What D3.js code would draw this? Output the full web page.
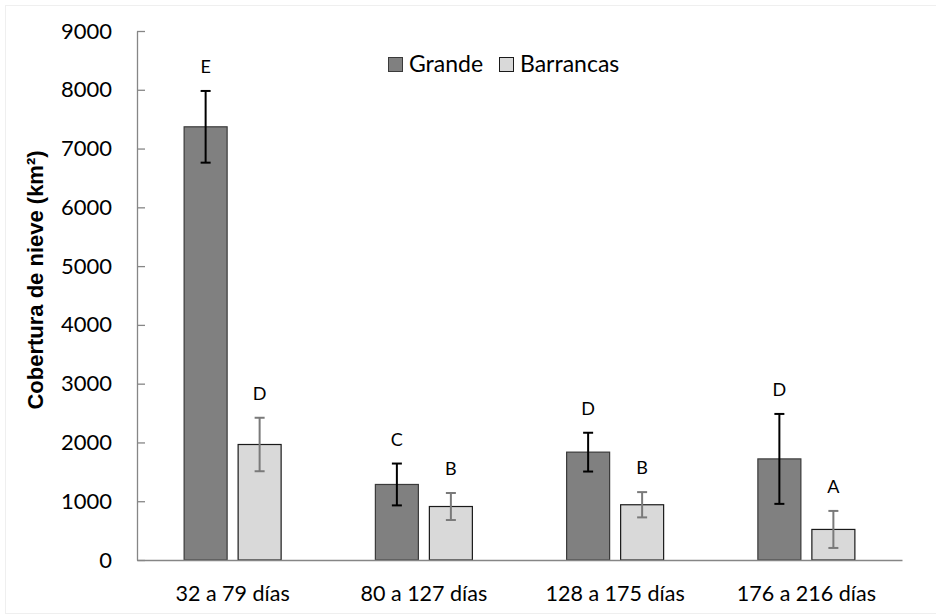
<!DOCTYPE html>
<html>
<head>
<meta charset="utf-8">
<script src="https://cdn.jsdelivr.net/npm/d3@7"></script>
<style>
  html, body { margin: 0; padding: 0; background: #fff; }
  svg { display: block; }
</style>
</head>
<body>
<svg id="chart" width="936" height="614"></svg>
<script>
// Snow cover per duration class, two basins, with error bars and significance letters
const categories = ["32 a 79 días", "80 a 127 días", "128 a 175 días", "176 a 216 días"];
const seriesNames = ["Grande", "Barrancas"];
const grandeValues = [7370, 1285, 1835, 1720];
const grandeErrors = [610, 356, 330, 765];
const barrancasValues = [1965, 910, 940, 520];
const barrancasErrors = [455, 230, 215, 315];
const grandeLetters = ["E", "C", "D", "D"];
const barrancasLetters = ["D", "B", "B", "A"];
const yTicks = [0, 1000, 2000, 3000, 4000, 5000, 6000, 7000, 8000, 9000];

const svg = d3.select("#chart");
const W = 936, H = 614;
const plot = { left: 137, right: 902, top: 31, bottom: 560 };
const bodyFont = "Lato, 'Open Sans', sans-serif";

// faint outer frame
svg.append("rect")
  .attr("x", 5.5).attr("y", 5.5)
  .attr("width", W).attr("height", H - 6)
  .attr("fill", "none").attr("stroke", "#efefef");

const x = d3.scaleBand().domain(categories).range([plot.left, plot.right]).padding(0);
const y = d3.scaleLinear().domain([0, 9000]).range([plot.bottom, plot.top]);

const barW = 43, innerGap = 11;

const series = [
  { name: seriesNames[0], values: grandeValues, errors: grandeErrors, letters: grandeLetters,
    fill: "#808080", stroke: "#3a3a3a", err: "#000000", offset: -(innerGap / 2 + barW) },
  { name: seriesNames[1], values: barrancasValues, errors: barrancasErrors, letters: barrancasLetters,
    fill: "#d9d9d9", stroke: "#1a1a1a", err: "#7a7a7a", offset: innerGap / 2 }
];

const cx = c => x(c) + x.bandwidth() / 2;

// y axis with inside ticks
const yAxis = d3.axisLeft(y).tickValues(yTicks).tickFormat(d3.format("d"))
  .tickSizeInner(-8).tickSizeOuter(0);
const gy = svg.append("g").attr("transform", `translate(${plot.left},0)`).call(yAxis);
gy.select(".domain").attr("stroke", "#868686").attr("stroke-width", 1.3);
gy.selectAll(".tick line").attr("stroke", "#868686").attr("stroke-width", 1.3);
gy.selectAll(".tick text")
  .attr("font-family", bodyFont)
  .attr("font-size", 22)
  .attr("fill", "#000")
  .attr("x", -25);

// bars
series.forEach(s => {
  const g = svg.append("g");
  g.selectAll("rect").data(categories).join("rect")
    .attr("x", (c) => cx(c) + s.offset)
    .attr("y", (c, i) => y(s.values[i]))
    .attr("width", barW)
    .attr("height", (c, i) => y(0) - y(s.values[i]))
    .attr("fill", s.fill)
    .attr("stroke", s.stroke)
    .attr("stroke-width", 1.2);
});

// x axis baseline and labels
const xAxis = d3.axisBottom(x).tickSize(0).tickPadding(26);
const gx = svg.append("g").attr("transform", `translate(0,${plot.bottom})`).call(xAxis);
gx.select(".domain").attr("stroke", "#868686").attr("stroke-width", 1.3);
gx.selectAll(".tick text")
  .attr("font-family", bodyFont)
  .attr("font-size", 21.5)
  .attr("fill", "#000");

// error bars and letters
series.forEach(s => {
  const g = svg.append("g");
  categories.forEach((c, i) => {
    const mx = cx(c) + s.offset + barW / 2;
    const hi = y(s.values[i] + s.errors[i]);
    const lo = y(s.values[i] - s.errors[i]);
    g.append("line").attr("x1", mx).attr("x2", mx).attr("y1", hi).attr("y2", lo)
      .attr("stroke", s.err).attr("stroke-width", 2);
    [hi, lo].forEach(v => {
      g.append("line").attr("x1", mx - 5).attr("x2", mx + 5).attr("y1", v).attr("y2", v)
        .attr("stroke", s.err).attr("stroke-width", 2);
    });
    g.append("text")
      .attr("x", mx).attr("y", hi - 18)
      .attr("text-anchor", "middle")
      .attr("font-family", bodyFont)
      .attr("font-size", 18)
      .attr("fill", "#000")
      .text(s.letters[i]);
  });
});

// y axis title
svg.append("text")
  .attr("transform", `translate(43,280) rotate(-90)`)
  .attr("text-anchor", "middle")
  .attr("font-family", "'Liberation Sans', Arial, sans-serif")
  .attr("font-weight", "bold")
  .attr("font-size", 22)
  .attr("fill", "#000")
  .text("Cobertura de nieve (km²)");

// legend
const legend = svg.append("g");
const legendX = [388, 499];
series.forEach((s, i) => {
  legend.append("rect")
    .attr("x", legendX[i] + 0.5).attr("y", 57.5)
    .attr("width", 14).attr("height", 14)
    .attr("fill", s.fill).attr("stroke", s.stroke).attr("stroke-width", 1);
  legend.append("text")
    .attr("x", legendX[i] + 21).attr("y", 72)
    .attr("font-family", bodyFont)
    .attr("font-size", 23)
    .attr("fill", "#000")
    .text(s.name);
});
</script>
</body>
</html>
